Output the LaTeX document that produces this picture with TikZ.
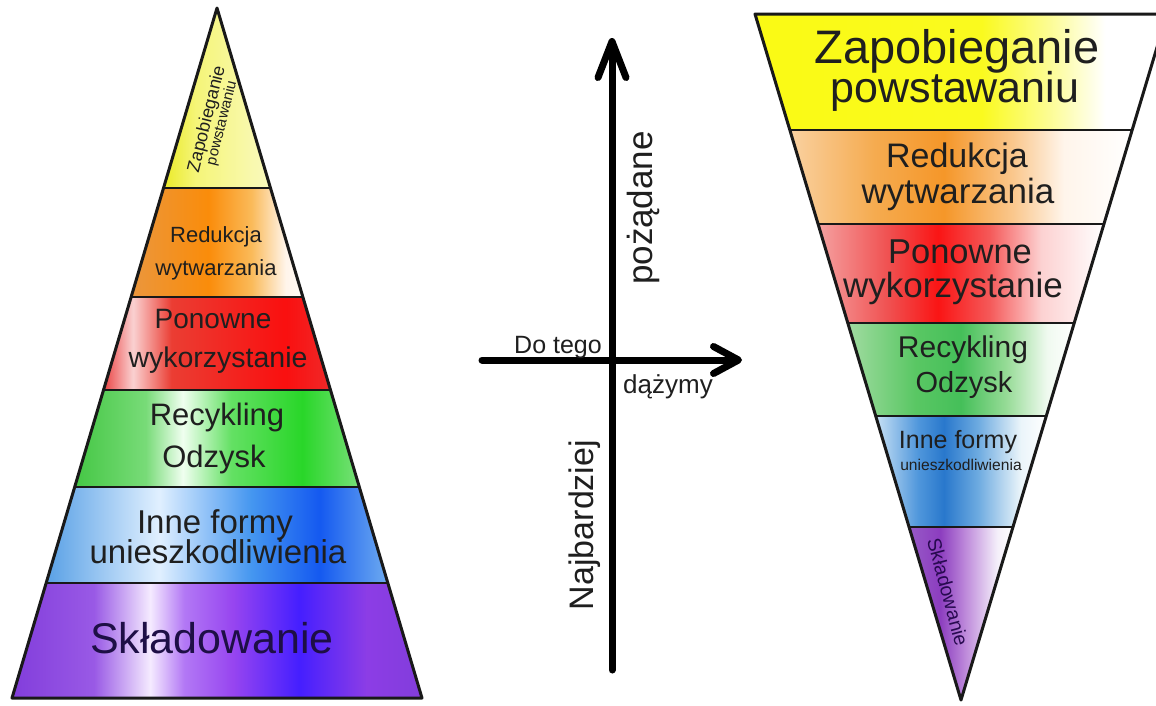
\documentclass[tikz,border=0pt]{standalone}
\usepackage{fontspec}
\setmainfont{Liberation Sans}
\usetikzlibrary{arrows.meta}
\newcommand\myfs[1]{\fontsize{#1}{#1}\selectfont}

% left pyramid shadings (inner 25bp..75bp = band bounding box)
\pgfdeclarehorizontalshading{shLa}{100bp}{rgb(0bp)=(.92,.92,.16); rgb(25bp)=(.92,.92,.16); rgb(40bp)=(.96,.96,.47); rgb(75bp)=(.98,.98,.75); rgb(100bp)=(.98,.98,.75)}
\pgfdeclarehorizontalshading{shLb}{100bp}{rgb(0bp)=(.92,.59,.24); rgb(25bp)=(.92,.59,.24); rgb(47.5bp)=(.98,.55,.04); rgb(60bp)=(.98,.73,.35); rgb(70bp)=(1,.96,.92); rgb(75bp)=(1,.98,.96); rgb(100bp)=(1,.98,.96)}
\pgfdeclarehorizontalshading{shLc}{100bp}{rgb(0bp)=(.92,.27,.27); rgb(25bp)=(.92,.27,.27); rgb(31.5bp)=(.98,.82,.82); rgb(40bp)=(.92,.24,.2); rgb(65bp)=(.98,.06,.06); rgb(75bp)=(.94,.16,.16); rgb(100bp)=(.94,.16,.16)}
\pgfdeclarehorizontalshading{shLd}{100bp}{rgb(0bp)=(.27,.78,.27); rgb(25bp)=(.27,.78,.27); rgb(37.5bp)=(.47,.86,.47); rgb(44bp)=(.94,1,.94); rgb(52.5bp)=(.39,.88,.39); rgb(65bp)=(.16,.84,.16); rgb(75bp)=(.47,.88,.47); rgb(100bp)=(.47,.88,.47)}
\pgfdeclarehorizontalshading{shLe}{100bp}{rgb(0bp)=(.35,.63,.9); rgb(25bp)=(.35,.63,.9); rgb(41.5bp)=(.88,.94,1); rgb(55bp)=(.27,.59,.94); rgb(65bp)=(.08,.35,.94); rgb(75bp)=(.43,.67,.94); rgb(100bp)=(.43,.67,.94)}
\pgfdeclarehorizontalshading{shLf}{100bp}{rgb(0bp)=(.51,.24,.86); rgb(25bp)=(.51,.24,.86); rgb(35bp)=(.6,.35,.9); rgb(41.85bp)=(.96,.92,1); rgb(46bp)=(.7,.47,.96); rgb(52bp)=(.59,.27,.94); rgb(60bp)=(.27,.12,1); rgb(68.25bp)=(.55,.24,.9); rgb(75bp)=(.51,.24,.86); rgb(100bp)=(.51,.24,.86)}
% right triangle shadings
\pgfdeclarehorizontalshading{shRa}{100bp}{rgb(0bp)=(.98,.98,.08); rgb(25bp)=(.98,.98,.08); rgb(52.5bp)=(.98,.98,.12); rgb(61bp)=(.99,.99,.6); rgb(67.5bp)=(1,1,1); rgb(100bp)=(1,1,1)}
\pgfdeclarehorizontalshading{shRb}{100bp}{rgb(0bp)=(.98,.82,.63); rgb(25bp)=(.98,.82,.63); rgb(37.5bp)=(.96,.67,.31); rgb(47.5bp)=(.96,.59,.16); rgb(57.5bp)=(.98,.78,.55); rgb(65bp)=(1,.96,.92); rgb(75bp)=(1,1,1); rgb(100bp)=(1,1,1)}
\pgfdeclarehorizontalshading{shRc}{100bp}{rgb(0bp)=(.96,.63,.63); rgb(25bp)=(.96,.63,.63); rgb(37.5bp)=(.94,.31,.31); rgb(46bp)=(.98,.08,.08); rgb(55bp)=(.96,.35,.35); rgb(64bp)=(.99,.82,.82); rgb(75bp)=(1,1,1); rgb(100bp)=(1,1,1)}
\pgfdeclarehorizontalshading{shRd}{100bp}{rgb(0bp)=(.63,.86,.63); rgb(25bp)=(.63,.86,.63); rgb(40bp)=(.35,.78,.39); rgb(50bp)=(.27,.75,.35); rgb(60bp)=(.59,.86,.59); rgb(69bp)=(.94,.98,.94); rgb(75bp)=(1,1,1); rgb(100bp)=(1,1,1)}
\pgfdeclarehorizontalshading{shRe}{100bp}{rgb(0bp)=(.78,.88,.96); rgb(25bp)=(.78,.88,.96); rgb(37.5bp)=(.31,.59,.86); rgb(45bp)=(.16,.47,.8); rgb(55bp)=(.43,.67,.88); rgb(67.5bp)=(.92,.96,.98); rgb(75bp)=(1,1,1); rgb(100bp)=(1,1,1)}
\pgfdeclarehorizontalshading{shRf}{100bp}{rgb(0bp)=(.59,.35,.78); rgb(25bp)=(.59,.35,.78); rgb(40bp)=(.55,.24,.75); rgb(52.5bp)=(.75,.55,.86); rgb(67.5bp)=(.96,.94,.98); rgb(75bp)=(1,1,1); rgb(100bp)=(1,1,1)}

\begin{document}
\begin{tikzpicture}[x=1pt,y=-1pt,
  band/.style={draw=black!90, line width=3pt, line join=round},
  sep/.style={draw=black!90, line width=2.6pt},
  lbl/.style={text=black!88, anchor=base, inner sep=0pt},
  rlbl/.style={text=black!88, inner sep=0pt, align=center},
  axis/.style={line width=7pt, line cap=round, line join=round}]

\fill[white] (0,0) rectangle (1156,705);
\useasboundingbox (0,0) rectangle (1156,705);

% ---------- left pyramid ----------
\coordinate (LA) at (217,8);
\coordinate (LBl) at (12,698);
\coordinate (LBr) at (422,698);
\shade[shading=shLa] (LA) -- (270.5,188) -- (163.5,188) -- cycle;
\shade[shading=shLb] (163.5,188) -- (270.5,188) -- (302.9,297) -- (131.1,297) -- cycle;
\shade[shading=shLc] (131.1,297) -- (302.9,297) -- (330.5,390) -- (103.5,390) -- cycle;
\shade[shading=shLd] (103.5,390) -- (330.5,390) -- (359.3,487) -- (74.7,487) -- cycle;
\shade[shading=shLe] (74.7,487) -- (359.3,487) -- (387.8,583) -- (46.2,583) -- cycle;
\shade[shading=shLf] (46.2,583) -- (387.8,583) -- (LBr) -- (LBl) -- cycle;
\draw[sep] (163.5,188) -- (270.5,188);
\draw[sep] (131.1,297) -- (302.9,297);
\draw[sep] (103.5,390) -- (330.5,390);
\draw[sep] (74.7,487) -- (359.3,487);
\draw[sep] (46.2,583) -- (387.8,583);
\draw[band] (LA) -- (LBr) -- (LBl) -- cycle;

\node[rlbl, rotate=76] (l1) at (214,121) {\myfs{18}Zapobieganie\\[-1pt]\myfs{15}powstawaniu};
\node[lbl, font=\myfs{22}] (l2a) at (216,242) {Redukcja};
\node[lbl, font=\myfs{22}] (l2b) at (216,275) {wytwarzania};
\node[lbl, font=\myfs{28}] (l3a) at (213,328) {Ponowne};
\node[lbl, font=\myfs{28.5}] (l3b) at (218,367) {wykorzystanie};
\node[lbl, font=\myfs{31}] (l4a) at (217,425) {Recykling};
\node[lbl, font=\myfs{31}] (l4b) at (214,467) {Odzysk};
\node[lbl, font=\myfs{33}] (l5a) at (215,533) {Inne formy};
\node[lbl, font=\myfs{33}] (l5b) at (218,563) {unieszkodliwienia};
\node[lbl, font=\myfs{43}, text={rgb,255:red,30;green,15;blue,70}] (l6) at (212,653) {Składowanie};

% ---------- axes ----------
\coordinate (vb) at (612,670);
\coordinate (vt) at (612,38);
\coordinate (hl) at (482,360);
\coordinate (hr) at (742,360);
\draw[axis, -{Straight Barb[length=36pt,width=28pt,round]}] (vb) -- (vt);
\draw[axis, -{Straight Barb[length=25pt,width=27pt,round]}] (hl) -- (hr);
\node[lbl, anchor=base east, font=\myfs{25}] (dotego) at (602,353) {Do tego};
\node[lbl, anchor=base west, font=\myfs{26}] (dazymy) at (623,393) {dążymy};
\node[rlbl, rotate=90, font=\myfs{35}] (pozadane) at (643,208) {pożądane};
\node[rlbl, rotate=90, font=\myfs{34}] (najb) at (585,525) {Najbardziej};

% ---------- right inverted triangle ----------
\begin{scope}
\clip (0,0) rectangle (1156,705);
\coordinate (RTl) at (755,14);
\coordinate (RTr) at (1167,14);
\coordinate (RV) at (961,700);
\shade[shading=shRa] (RTl) -- (RTr) -- (1132.2,130) -- (789.8,130) -- cycle;
\shade[shading=shRb] (789.8,130) -- (1132.2,130) -- (1103.9,224) -- (818.1,224) -- cycle;
\shade[shading=shRc] (818.1,224) -- (1103.9,224) -- (1074.2,323) -- (847.8,323) -- cycle;
\shade[shading=shRd] (847.8,323) -- (1074.2,323) -- (1046.3,416) -- (875.7,416) -- cycle;
\shade[shading=shRe] (875.7,416) -- (1046.3,416) -- (1012.95,527) -- (909.05,527) -- cycle;
\shade[shading=shRf] (909.05,527) -- (1012.95,527) -- (RV) -- cycle;
\draw[sep] (789.8,130) -- (1132.2,130);
\draw[sep] (818.1,224) -- (1103.9,224);
\draw[sep] (847.8,323) -- (1074.2,323);
\draw[sep] (875.7,416) -- (1046.3,416);
\draw[sep] (909.05,527) -- (1012.95,527);
\draw[band] (RTl) -- (RTr) -- (RV) -- cycle;
\end{scope}

\node[lbl, font=\myfs{47}] (r1a) at (957,63) {Zapobieganie};
\node[lbl, font=\myfs{43}] (r1b) at (955,102) {powstawaniu};
\node[lbl, font=\myfs{34}] (r2a) at (957,167) {Redukcja};
\node[lbl, font=\myfs{35}] (r2b) at (958,203) {wytwarzania};
\node[lbl, font=\myfs{34.5}] (r3a) at (960,263) {Ponowne};
\node[lbl, font=\myfs{35}] (r3b) at (953,297) {wykorzystanie};
\node[lbl, font=\myfs{30}] (r4a) at (963,357) {Recykling};
\node[lbl, font=\myfs{29}] (r4b) at (964,392) {Odzysk};
\node[lbl, font=\myfs{25}] (r5a) at (958,448) {Inne formy};
\node[lbl, font=\myfs{15.6}] (r5b) at (961,470) {unieszkodliwienia};
\node[rlbl, rotate=-75, font=\myfs{19.5}, text={rgb,255:red,40;green,10;blue,80}] (r6) at (948,592) {Składowanie};
\end{tikzpicture}
\end{document}
